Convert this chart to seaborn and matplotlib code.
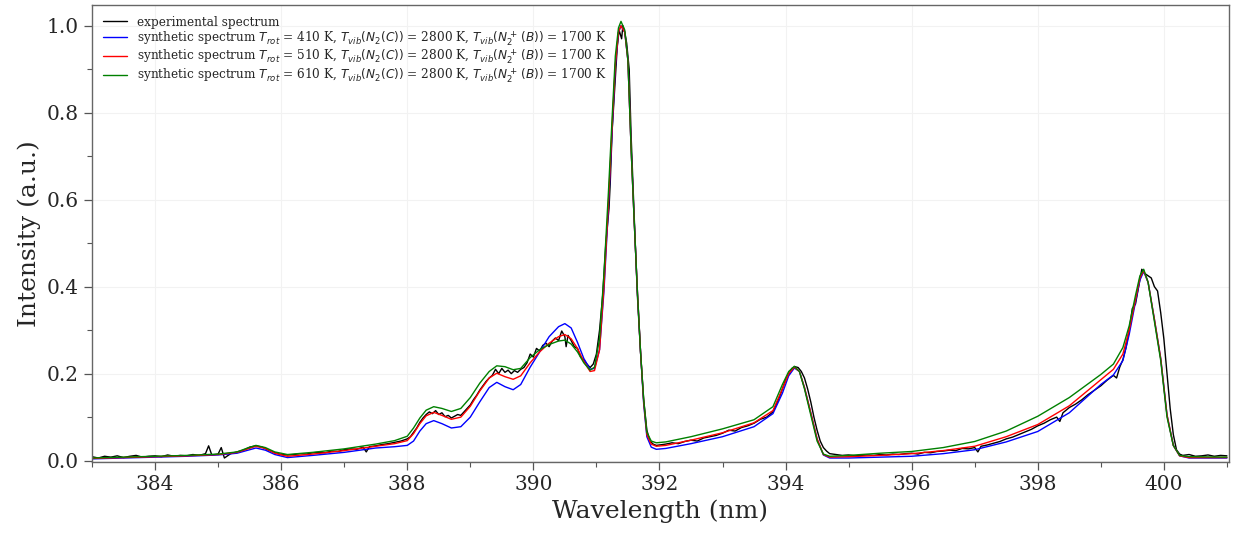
import numpy as np
import pandas as pd
import matplotlib
matplotlib.use("Agg")
import matplotlib.pyplot as plt
from matplotlib.ticker import MultipleLocator
import seaborn as sns

# ---------------- data ----------------
x_syn = [383.0, 383.5, 384.0, 384.5, 385.0, 385.3, 385.45, 385.6, 385.75, 385.9,
         386.1, 386.5, 387.0, 387.5, 387.8, 388.0, 388.1, 388.2, 388.3, 388.42,
         388.55, 388.7, 388.85, 389.0, 389.15, 389.3, 389.42, 389.55, 389.68, 389.8,
         389.95, 390.1, 390.25, 390.4, 390.5, 390.6, 390.7, 390.8, 390.9, 390.97,
         391.05, 391.12, 391.19, 391.25, 391.3, 391.35, 391.39, 391.45, 391.5, 391.55,
         391.6, 391.65, 391.7, 391.75, 391.8, 391.87, 391.95, 392.1, 392.5, 393.0,
         393.5, 393.8, 393.95, 394.05, 394.14, 394.22, 394.3, 394.4, 394.5, 394.6,
         394.7, 395.0, 395.5, 396.0, 396.5, 397.0, 397.5, 398.0, 398.5, 399.0,
         399.2, 399.35, 399.45, 399.55, 399.62, 399.68, 399.75, 399.85, 399.95, 400.05,
         400.15, 400.25, 400.4, 401.0]

y_610 = [0.006, 0.008, 0.010, 0.012, 0.015, 0.020, 0.028, 0.035, 0.030, 0.020,
         0.014, 0.019, 0.027, 0.038, 0.046, 0.056, 0.075, 0.098, 0.116, 0.124,
         0.120, 0.113, 0.120, 0.145, 0.178, 0.205, 0.218, 0.216, 0.209, 0.212,
         0.237, 0.255, 0.267, 0.275, 0.277, 0.268, 0.250, 0.225, 0.208, 0.215,
         0.280, 0.430, 0.615, 0.790, 0.930, 0.995, 1.010, 0.990, 0.920, 0.720,
         0.550, 0.390, 0.250, 0.140, 0.065, 0.045, 0.041, 0.043, 0.055, 0.073,
         0.094, 0.124, 0.175, 0.205, 0.217, 0.205, 0.165, 0.105, 0.045, 0.015,
         0.010, 0.012, 0.017, 0.021, 0.030, 0.044, 0.068, 0.102, 0.145, 0.198,
         0.222, 0.260, 0.310, 0.380, 0.425, 0.440, 0.410, 0.320, 0.230, 0.100,
         0.035, 0.012, 0.009, 0.008]

y_510 = [0.005, 0.007, 0.009, 0.011, 0.014, 0.019, 0.026, 0.033, 0.028, 0.017,
         0.010, 0.015, 0.023, 0.033, 0.039, 0.046, 0.062, 0.085, 0.103, 0.111,
         0.104, 0.095, 0.100, 0.125, 0.160, 0.190, 0.201, 0.193, 0.187, 0.195,
         0.225, 0.250, 0.270, 0.285, 0.290, 0.280, 0.258, 0.228, 0.205, 0.207,
         0.255, 0.400, 0.590, 0.770, 0.910, 0.985, 1.000, 0.985, 0.920, 0.720,
         0.550, 0.390, 0.250, 0.135, 0.060, 0.038, 0.033, 0.035, 0.047, 0.064,
         0.087, 0.115, 0.165, 0.200, 0.215, 0.205, 0.168, 0.110, 0.050, 0.014,
         0.008, 0.009, 0.012, 0.016, 0.023, 0.033, 0.055, 0.083, 0.126, 0.186,
         0.210, 0.245, 0.300, 0.370, 0.420, 0.437, 0.410, 0.325, 0.235, 0.105,
         0.035, 0.011, 0.007, 0.007]

y_410 = [0.004, 0.006, 0.008, 0.010, 0.013, 0.017, 0.023, 0.029, 0.024, 0.014,
         0.007, 0.012, 0.019, 0.029, 0.032, 0.035, 0.045, 0.068, 0.085, 0.092,
         0.085, 0.075, 0.078, 0.100, 0.135, 0.168, 0.180, 0.170, 0.163, 0.175,
         0.215, 0.250, 0.285, 0.308, 0.315, 0.305, 0.272, 0.235, 0.210, 0.212,
         0.255, 0.390, 0.580, 0.760, 0.905, 0.985, 1.000, 0.985, 0.920, 0.720,
         0.550, 0.390, 0.250, 0.130, 0.055, 0.031, 0.026, 0.028, 0.039, 0.055,
         0.078, 0.108, 0.155, 0.195, 0.213, 0.205, 0.168, 0.110, 0.050, 0.013,
         0.006, 0.006, 0.008, 0.010, 0.016, 0.025, 0.043, 0.067, 0.110, 0.175,
         0.197, 0.230, 0.290, 0.365, 0.415, 0.435, 0.410, 0.325, 0.235, 0.105,
         0.035, 0.011, 0.006, 0.006]

x_exp = [383.0, 383.1, 383.2, 383.3, 383.4, 383.5, 383.6, 383.7, 383.8, 383.9,
         384.0, 384.1, 384.2, 384.3, 384.4, 384.5, 384.6, 384.7, 384.8, 384.85,
         384.9, 385.0, 385.05, 385.1, 385.2, 385.3, 385.4, 385.5, 385.6, 385.7,
         385.8, 385.9, 386.0, 386.1, 386.2, 386.3, 386.4, 386.5, 386.6, 386.7,
         386.8, 386.9, 387.0, 387.1, 387.2, 387.3, 387.35, 387.4, 387.5, 387.6,
         387.7, 387.8, 387.9, 388.0, 388.05, 388.1, 388.15, 388.2, 388.25, 388.3,
         388.35, 388.4, 388.45, 388.5, 388.55, 388.6, 388.65, 388.7, 388.75, 388.8,
         388.85, 388.9, 388.95, 389.0, 389.05, 389.1, 389.15, 389.2, 389.25, 389.3,
         389.35, 389.4, 389.45, 389.5, 389.55, 389.6, 389.65, 389.7, 389.75, 389.8,
         389.85, 389.9, 389.95, 390.0, 390.05, 390.1, 390.15, 390.2, 390.25, 390.3,
         390.35, 390.4, 390.45, 390.5, 390.52, 390.55, 390.6, 390.65, 390.7, 390.75,
         390.8, 390.85, 390.9, 390.95, 391.0, 391.05, 391.1, 391.15, 391.2, 391.22,
         391.25, 391.3, 391.33, 391.36, 391.4, 391.42, 391.45, 391.48, 391.5, 391.52,
         391.55, 391.6, 391.65, 391.7, 391.75, 391.8, 391.85, 391.9, 391.95, 392.0,
         392.1, 392.2, 392.3, 392.4, 392.5, 392.6, 392.7, 392.8, 392.9, 393.0,
         393.1, 393.2, 393.3, 393.4, 393.5, 393.6, 393.7, 393.8, 393.9, 394.0,
         394.1, 394.15, 394.2, 394.25, 394.3, 394.35, 394.4, 394.45, 394.5, 394.55,
         394.6, 394.65, 394.7, 394.8, 394.9, 395.0, 395.1, 395.2, 395.3, 395.4,
         395.5, 395.6, 395.7, 395.8, 395.9, 396.0, 396.1, 396.2, 396.3, 396.4,
         396.5, 396.6, 396.7, 396.8, 396.9, 397.0, 397.05, 397.1, 397.2, 397.3,
         397.4, 397.5, 397.6, 397.7, 397.8, 397.9, 398.0, 398.1, 398.2, 398.3,
         398.35, 398.4, 398.5, 398.6, 398.7, 398.8, 398.9, 399.0, 399.1, 399.2,
         399.25, 399.3, 399.35, 399.4, 399.45, 399.5, 399.55, 399.6, 399.65, 399.7,
         399.75, 399.8, 399.85, 399.9, 399.95, 400.0, 400.05, 400.1, 400.15, 400.2,
         400.25, 400.3, 400.4, 400.5, 400.6, 400.7, 400.8, 400.9, 401.0]

y_exp = [0.009, 0.006, 0.010, 0.008, 0.011, 0.007, 0.010, 0.012, 0.008, 0.010,
         0.011, 0.009, 0.013, 0.010, 0.012, 0.011, 0.014, 0.012, 0.016, 0.034,
         0.013, 0.015, 0.030, 0.006, 0.016, 0.020, 0.024, 0.031, 0.034, 0.031,
         0.024, 0.018, 0.014, 0.013, 0.014, 0.016, 0.015, 0.018, 0.019, 0.018,
         0.022, 0.021, 0.025, 0.027, 0.026, 0.031, 0.020, 0.032, 0.034, 0.037,
         0.039, 0.042, 0.045, 0.050, 0.055, 0.065, 0.075, 0.088, 0.098, 0.106,
         0.112, 0.108, 0.115, 0.106, 0.110, 0.101, 0.104, 0.098, 0.102, 0.106,
         0.104, 0.112, 0.120, 0.128, 0.140, 0.150, 0.162, 0.172, 0.182, 0.190,
         0.196, 0.210, 0.200, 0.212, 0.203, 0.208, 0.200, 0.207, 0.203, 0.210,
         0.214, 0.225, 0.245, 0.238, 0.258, 0.252, 0.265, 0.270, 0.262, 0.275,
         0.282, 0.276, 0.298, 0.285, 0.262, 0.288, 0.276, 0.262, 0.258, 0.238,
         0.232, 0.222, 0.214, 0.222, 0.245, 0.300, 0.380, 0.500, 0.580, 0.640,
         0.760, 0.880, 0.950, 0.990, 0.970, 1.000, 0.985, 0.960, 0.930, 0.900,
         0.750, 0.560, 0.380, 0.250, 0.140, 0.070, 0.045, 0.038, 0.035, 0.036,
         0.038, 0.041, 0.039, 0.044, 0.047, 0.045, 0.052, 0.055, 0.058, 0.063,
         0.070, 0.068, 0.076, 0.080, 0.086, 0.095, 0.100, 0.112, 0.145, 0.185,
         0.212, 0.216, 0.214, 0.205, 0.190, 0.165, 0.135, 0.100, 0.070, 0.045,
         0.030, 0.022, 0.016, 0.014, 0.012, 0.013, 0.011, 0.012, 0.013, 0.012,
         0.014, 0.013, 0.015, 0.014, 0.016, 0.017, 0.015, 0.019, 0.018, 0.021,
         0.022, 0.024, 0.023, 0.028, 0.027, 0.030, 0.020, 0.033, 0.036, 0.040,
         0.044, 0.050, 0.054, 0.060, 0.066, 0.072, 0.080, 0.086, 0.094, 0.100,
         0.090, 0.110, 0.122, 0.130, 0.140, 0.152, 0.162, 0.172, 0.185, 0.196,
         0.190, 0.215, 0.232, 0.260, 0.300, 0.350, 0.360, 0.400, 0.440, 0.430,
         0.425, 0.420, 0.400, 0.390, 0.340, 0.280, 0.200, 0.120, 0.060, 0.025,
         0.015, 0.012, 0.014, 0.010, 0.011, 0.013, 0.010, 0.012, 0.011]

labels = [
    "experimental spectrum",
    r"synthetic spectrum $T_{rot}$ = 410 K, $T_{vib}(N_2(C))$ = 2800 K, $T_{vib}(N_2^+\,(B))$ = 1700 K",
    r"synthetic spectrum $T_{rot}$ = 510 K, $T_{vib}(N_2(C))$ = 2800 K, $T_{vib}(N_2^+\,(B))$ = 1700 K",
    r"synthetic spectrum $T_{rot}$ = 610 K, $T_{vib}(N_2(C))$ = 2800 K, $T_{vib}(N_2^+\,(B))$ = 1700 K",
]
colors = ["black", "blue", "red", "green"]

# ---------------- plotting ----------------
sns.set_style("ticks")
plt.rcParams["font.family"] = ["DejaVu Serif"]
plt.rcParams["mathtext.fontset"] = "dejavusans"

fig = plt.figure(figsize=(12.33, 5.39), dpi=100)
ax = fig.add_axes([0.0746, 0.143, 0.922, 0.848])

series = [(x_exp, y_exp), (x_syn, y_410), (x_syn, y_510), (x_syn, y_610)]
for (xs, ys), lab, col in zip(series, labels, colors):
    df = pd.DataFrame({"wl": xs, "I": ys})
    sns.lineplot(data=df, x="wl", y="I", ax=ax, color=col, linewidth=1.0,
                 label=lab, estimator=None, sort=False)

ax.set_xlim(383.0, 401.03)
ax.set_ylim(-0.003, 1.048)
ax.xaxis.set_major_locator(MultipleLocator(2))
ax.xaxis.set_minor_locator(MultipleLocator(1))
ax.yaxis.set_major_locator(MultipleLocator(0.2))
ax.yaxis.set_minor_locator(MultipleLocator(0.1))
ax.tick_params(which="major", length=6, width=0.9, labelsize=14.5, color="#555555")
ax.tick_params(which="minor", length=3.5, width=0.8, color="#555555")
ax.grid(True, which="major", color="#f2f2f2", linewidth=0.8)
for s in ax.spines.values():
    s.set_color("#666666")
    s.set_linewidth(1.0)

ax.set_xlabel("Wavelength (nm)", fontsize=18)
ax.set_ylabel("Intensity (a.u.)", fontsize=18)

ax.legend(loc="upper left", frameon=False, fontsize=8.7, borderaxespad=0.5,
          handlelength=2.0, handletextpad=0.8, labelspacing=0.0)

fig.savefig("out.png", dpi=100)
